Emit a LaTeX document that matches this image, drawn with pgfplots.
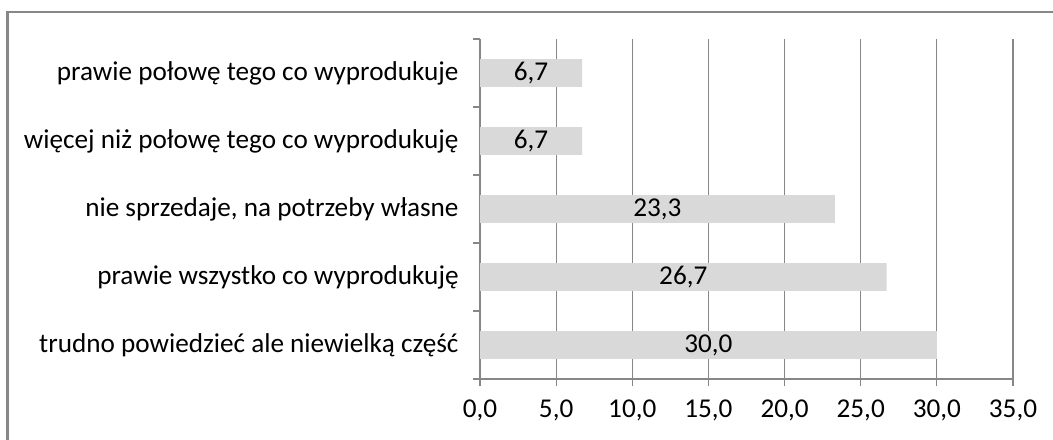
\documentclass[border=0pt]{standalone}
\usepackage{pgfplots}
\pgfplotsset{compat=1.18}
\usepackage{fontspec}
\setmainfont{Carlito}
\definecolor{bargray}{HTML}{D9D9D9}
\definecolor{linegray}{HTML}{878787}
\begin{document}
\fontsize{13.6}{15}\selectfont
\begin{tikzpicture}
\useasboundingbox (0,0) rectangle (526.5pt,219.5pt);
\draw[linegray, line width=1.4pt] (3.8pt,-2pt) -- (3.8pt,213.5pt) -- (530pt,213.5pt);
\begin{axis}[
  at={(240pt,30pt)}, anchor=south west,
  scale only axis, width=266.5pt, height=170pt,
  xmin=0, xmax=35, ymin=-0.5, ymax=4.5,
  xtick={0,5,...,35},
  ytick={0,1,2,3,4},
  yticklabels={trudno powiedzieć ale niewielką część,
               prawie wszystko co wyprodukuję,
               {nie sprzedaje, na potrzeby własne},
               więcej niż połowę tego co wyprodukuję,
               prawie połowę tego co wyprodukuje},
  minor ytick={-0.5,0.5,...,4.5},
  major y tick style={draw=none},
  minor y tick style={linegray, line width=0.6pt},
  minor tick length=3.5pt,
  major tick length=3.5pt,
  x tick style={linegray, line width=0.6pt},
  tick align=outside,
  xtick pos=bottom, ytick pos=left,
  axis x line*=bottom, axis y line*=left,
  axis line style={linegray, line width=0.6pt},
  x axis line style={-}, y axis line style={-},
  xmajorgrids, grid style={linegray, line width=0.6pt},
  /pgf/number format/.cd, use comma, fixed, fixed zerofill, precision=1, assume math mode=true,
  /pgfplots/.cd,
  xticklabel style={font=\fontsize{13.6}{15}\selectfont, yshift=-2pt},
  yticklabel style={font=\fontsize{13.6}{15}\selectfont, xshift=-2.5pt},
  clip=false,
]
\addplot[xbar, bar width=0.41, fill=bargray, draw=none] coordinates {
  (30.0,0) (26.7,1) (23.3,2) (6.7,3) (6.7,4)
};
\addplot[draw=none, mark=none, nodes near coords, point meta=explicit,
  every node near coord/.style={anchor=center, font=\fontsize{13.6}{15}\selectfont, text=black}]
  coordinates {
  (15.0,0) [30.0] (13.35,1) [26.7] (11.65,2) [23.3] (3.35,3) [6.7] (3.35,4) [6.7]
};
\end{axis}
\end{tikzpicture}
\end{document}
